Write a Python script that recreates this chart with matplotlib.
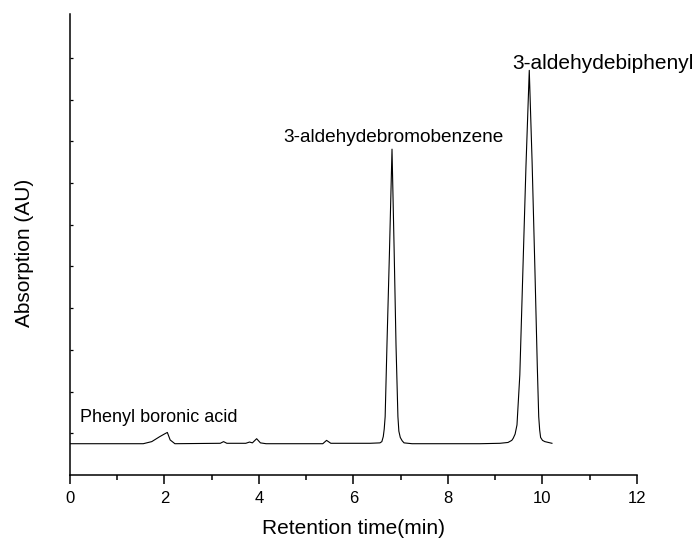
import numpy as np
import matplotlib
matplotlib.use("Agg")
import matplotlib.pyplot as plt
from matplotlib.ticker import MultipleLocator

plt.rcParams['font.family'] = ['Liberation Sans', 'DejaVu Sans']

# HPLC trace (retention time in min, absorption in arbitrary units)
time_min = [0.00, 1.55, 1.73, 1.90, 2.01, 2.06, 2.12, 2.22,
            3.18, 3.25, 3.32, 3.72, 3.80, 3.86, 3.95, 4.03, 4.15,
            5.35, 5.43, 5.52, 6.35, 6.56, 6.60, 6.63, 6.65, 6.67,
            6.71, 6.76, 6.815, 6.86, 6.90, 6.94, 6.96,
            6.99, 7.03, 7.07, 7.24, 8.68, 9.10, 9.27, 9.35, 9.38,
            9.42, 9.46, 9.52, 9.59, 9.65, 9.72, 9.78, 9.84, 9.89,
            9.92, 9.94, 9.96, 10.00, 10.05, 10.20]
absorption = [0.75, 0.75, 0.80, 0.92, 0.99, 1.02, 0.84, 0.75,
              0.76, 0.80, 0.76, 0.76, 0.79, 0.77, 0.87, 0.77, 0.75,
              0.75, 0.83, 0.76, 0.76, 0.77, 0.80, 0.92, 1.10, 1.40,
              3.20, 5.30, 7.81, 5.40, 3.10, 1.40, 1.05,
              0.90, 0.82, 0.77, 0.75, 0.75, 0.76, 0.78, 0.83, 0.88,
              0.98, 1.20, 2.40, 5.10, 7.40, 9.70, 7.50, 4.90, 2.60,
              1.40, 1.08, 0.90, 0.83, 0.80, 0.76]

peak_labels = ['Phenyl boronic acid', '3-aldehydebromobenzene', '3-aldehydebiphenyl']
label_x = [0.21, 4.51, 9.35]
label_y = [1.28, 7.99, 9.74]
label_size = [13, 13.7, 15]

fig = plt.figure(figsize=(6.99, 5.43), dpi=100)
ax = fig.add_axes([70 / 699, 68 / 543, 567 / 699, 461 / 543])

ax.plot(time_min, absorption, color='black', lw=0.8)

for text, x, y, fs in zip(peak_labels, label_x, label_y, label_size):
    ax.text(x, y, text, fontsize=fs, ha='left', va='baseline', clip_on=False)

ax.set_xlim(0, 12)
ax.set_ylim(0, 11.05)
ax.xaxis.set_major_locator(MultipleLocator(2))
ax.xaxis.set_minor_locator(MultipleLocator(1))
ax.set_yticks(np.arange(1, 11))
ax.set_yticklabels([])

ax.spines['top'].set_visible(False)
ax.spines['right'].set_visible(False)
for side in ['left', 'bottom']:
    ax.spines[side].set_linewidth(1.1)

ax.tick_params(axis='x', which='major', direction='out', length=6.2, width=1.1, labelsize=12, pad=5)
ax.tick_params(axis='x', which='minor', direction='out', length=3.6, width=1.1)
ax.tick_params(axis='y', which='major', direction='in', length=2, width=0.9)

fig.text(354 / 699, 1 - 529 / 543, 'Retention time(min)', fontsize=15, ha='center', va='center')
fig.text(25 / 699, 1 - 253 / 543, 'Absorption (AU)', fontsize=15, rotation=90, ha='center', va='center')

fig.savefig('out.png', dpi=100)
